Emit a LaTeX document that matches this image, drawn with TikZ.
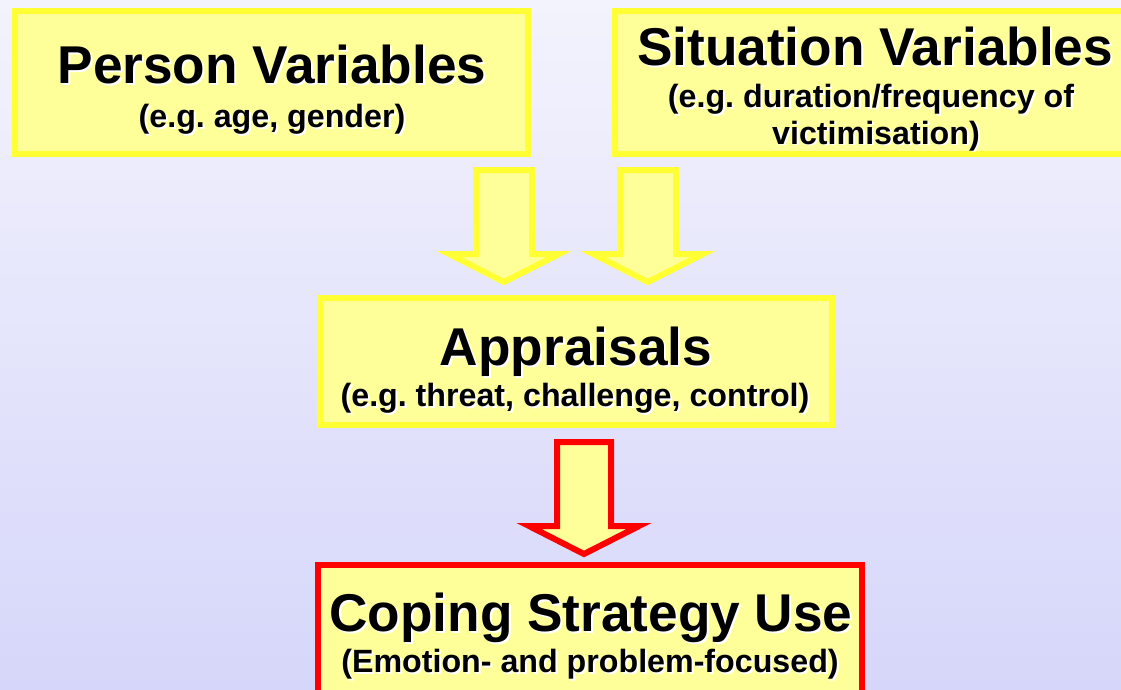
\documentclass[tikz,border=0pt]{standalone}
\usepackage{fontspec}
\setmainfont{Liberation Sans}
\frenchspacing
\definecolor{bgtop}{RGB}{243,243,253}
\definecolor{bgbot}{RGB}{214,214,250}
\definecolor{boxfill}{RGB}{255,255,153}
\definecolor{boxline}{RGB}{255,255,51}
\definecolor{redline}{RGB}{255,0,0}
\newcommand\tfont{\fontsize{53.2}{60}\selectfont\bfseries}
\newcommand\sfont{\fontsize{32.2}{38}\selectfont\bfseries}
\newcommand\shtext[4]{%
  \node[txt,white,xshift=2pt,yshift=-2pt] at (#2) {#3#4};
  \node[txt] (#1) at (#2) {#3#4};}
\tikzset{
  txt/.style={anchor=base,inner sep=0pt,text=black},
  ybox/.style={draw=boxline,fill=boxfill,line width=6pt,inner sep=0pt,rectangle},
  rbox/.style={draw=redline,fill=boxfill,line width=6pt,inner sep=0pt,rectangle},
  yarrow/.style={draw=boxline,fill=boxfill,line width=6pt,line join=miter},
  rarrow/.style={draw=redline,fill=boxfill,line width=6pt,line join=miter}
}
\begin{document}
\begin{tikzpicture}[x=1pt,y=-1pt]
\useasboundingbox (0,0) rectangle (1121,690);
\shade[top color=bgtop,bottom color=bgbot] (0,0) rectangle (1121,690);
% boxes
\node[ybox,minimum width=513pt,minimum height=143pt] (person) at (271.5,82.5) {};
\node[ybox,minimum width=515pt,minimum height=143pt] (situation) at (872.5,82.5) {};
\node[ybox,minimum width=512pt,minimum height=127pt] (appraisals) at (576,361.5) {};
\node[rbox,minimum width=544pt,minimum height=135pt] (coping) at (590,632.5) {};
% block arrows
\draw[yarrow] (476,170) -- (532,170) -- (532,254) -- (559,254) -- (504,282)
  -- (449,254) -- (476,254) -- cycle;
\draw[yarrow] (620,170) -- (676,170) -- (676,254) -- (703,254) -- (648,282)
  -- (593,254) -- (620,254) -- cycle;
\draw[rarrow] (557,442) -- (611,442) -- (611,526) -- (639,526) -- (584,554)
  -- (529,526) -- (557,526) -- cycle;
% texts
\shtext{pt}{272,84}{\tfont}{Person Variables}
\shtext{ps}{272,128}{\sfont}{(e.g. age, gender)}
\shtext{st}{875,66}{\tfont}{Situation Variables}
\shtext{ss1}{871,108}{\sfont}{(e.g. duration/frequency of}
\shtext{ss2}{876,144}{\sfont}{victimisation)}
\shtext{at}{576,365}{\tfont}{Appraisals}
\shtext{as}{575,406}{\sfont}{(e.g. threat, challenge, control)}
\shtext{ct}{591,631}{\tfont}{Coping Strategy Use}
\shtext{cs}{590,672}{\sfont}{(Emotion- and problem-focused)}
\end{tikzpicture}
\end{document}
